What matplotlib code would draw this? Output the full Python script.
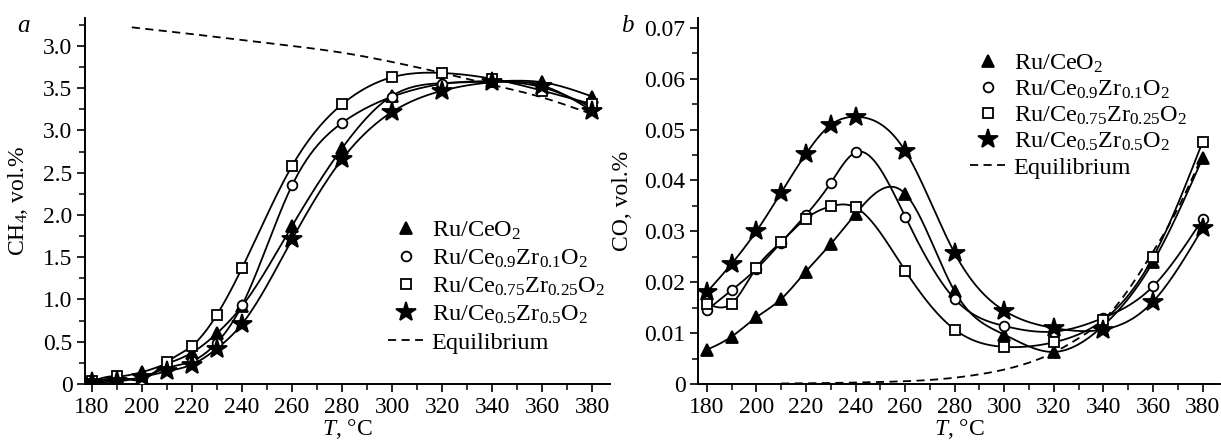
import numpy as np
import matplotlib
matplotlib.use('Agg')
import matplotlib.pyplot as plt
from matplotlib.ticker import MultipleLocator, FixedLocator, FixedFormatter

plt.rcParams['font.family'] = ['Liberation Serif', 'DejaVu Serif']
plt.rcParams['mathtext.fontset'] = 'custom'
plt.rcParams['mathtext.rm'] = 'Liberation Serif'
plt.rcParams['mathtext.it'] = 'Liberation Serif:italic'

# ---- data ----
T = [180, 190, 200, 210, 220, 230, 240, 260, 280, 300, 320, 340, 360, 380]

# panel a: CH4, vol.%
ch4_ce = [0.03, 0.08, 0.14, 0.24, 0.37, 0.60, 0.92, 1.87, 2.79, 3.41, 3.56, 3.58, 3.57, 3.40]
ch4_z10 = [0.02, 0.05, 0.08, 0.19, 0.27, 0.49, 0.93, 2.35, 3.09, 3.40, 3.55, 3.58, 3.51, 3.27]
ch4_z25 = [0.03, 0.09, 0.05, 0.26, 0.45, 0.82, 1.37, 2.58, 3.31, 3.63, 3.68, 3.61, 3.47, 3.31]
ch4_z50 = [0.02, 0.03, 0.08, 0.15, 0.23, 0.42, 0.71, 1.71, 2.66, 3.22, 3.47, 3.57, 3.53, 3.23]
T_eq_a = [196, 220, 240, 260, 280, 300, 320, 340, 360, 380]
ch4_eq = [4.22, 4.14, 4.07, 4.00, 3.92, 3.81, 3.68, 3.54, 3.39, 3.19]

# panel b: CO, vol.%
co_ce = [0.0067, 0.0093, 0.0131, 0.0167, 0.0221, 0.0275, 0.0334, 0.0374, 0.0182, 0.0097, 0.0063, 0.0115, 0.0240, 0.0444]
co_z10 = [0.0145, 0.0184, 0.0226, 0.0278, 0.0332, 0.0395, 0.0455, 0.0329, 0.0167, 0.0114, 0.0103, 0.0130, 0.0192, 0.0324]
co_z25 = [0.0158, 0.0158, 0.0228, 0.0279, 0.0325, 0.0349, 0.0347, 0.0223, 0.0107, 0.0073, 0.0082, 0.0126, 0.0249, 0.0476]
co_z50 = [0.0180, 0.0236, 0.0300, 0.0376, 0.0452, 0.0509, 0.0525, 0.0458, 0.0257, 0.0144, 0.0110, 0.0107, 0.0162, 0.0306]
T_eq_b = [210, 230, 250, 270, 290, 310, 320, 330, 340, 350, 360, 370, 380]
co_eq = [0.0001, 0.0002, 0.0004, 0.0008, 0.0019, 0.0042, 0.0062, 0.0090, 0.0126, 0.0185, 0.0260, 0.0345, 0.0450]

labels = [r'Ru/CeO$_2$', r'Ru/Ce$_{0.9}$Zr$_{0.1}$O$_2$',
          r'Ru/Ce$_{0.75}$Zr$_{0.25}$O$_2$', r'Ru/Ce$_{0.5}$Zr$_{0.5}$O$_2$']
a_ticklabels = ['0', '0.5', '1.0', '1.5', '2.0', '2.5', '3.0', '3.5', '3.0']
b_ticklabels = ['0', '0.01', '0.02', '0.03', '0.04', '0.05', '0.06', '0.07']


def natural_spline(x, y, num=400):
    x = np.asarray(x, float)
    y = np.asarray(y, float)
    n = len(x)
    h = np.diff(x)
    A = np.zeros((n, n))
    b = np.zeros(n)
    A[0, 0] = A[-1, -1] = 1
    for i in range(1, n - 1):
        A[i, i - 1] = h[i - 1]
        A[i, i] = 2 * (h[i - 1] + h[i])
        A[i, i + 1] = h[i]
        b[i] = 6 * ((y[i + 1] - y[i]) / h[i] - (y[i] - y[i - 1]) / h[i - 1])
    M = np.linalg.solve(A, b)
    xs = np.linspace(x[0], x[-1], num)
    k = np.clip(np.searchsorted(x, xs) - 1, 0, n - 2)
    hh = x[k + 1] - x[k]
    t0 = x[k + 1] - xs
    t1 = xs - x[k]
    ys = (M[k] * t0**3 + M[k + 1] * t1**3) / (6 * hh) \
        + (y[k] / hh - M[k] * hh / 6) * t0 + (y[k + 1] / hh - M[k + 1] * hh / 6) * t1
    return xs, ys


styles = [dict(marker='^', ms=8, mfc='black'),
          dict(marker='o', ms=7, mfc='white'),
          dict(marker='s', ms=7, mfc='white'),
          dict(marker='*', ms=15, mfc='black')]

fig = plt.figure(figsize=(12.21, 4.42), dpi=100)
axa = fig.add_axes([0.0696, 0.1312, 0.430, 0.828])
axb = fig.add_axes([0.5717, 0.1312, 0.4275, 0.828])

FS = 17


def draw(ax, series, Teq, yeq):
    handles = []
    for ys, st in zip(series, styles):
        xs, yy = natural_spline(T, ys)
        ax.plot(xs, yy, color='black', lw=1.3, zorder=2)
        h, = ax.plot(T, ys, ls='none', color='black', mec='black', mew=1.3,
                     zorder=3, **st)
        handles.append(h)
    xs, yy = natural_spline(Teq, yeq)
    h, = ax.plot(xs, yy, color='black', ls=(0, (4.5, 3)), lw=1.3, zorder=1)
    handles.append(h)
    for s in ['top', 'right']:
        ax.spines[s].set_visible(False)
    for s in ['left', 'bottom']:
        ax.spines[s].set_linewidth(1.4)
    ax.xaxis.set_major_locator(MultipleLocator(20))
    ax.xaxis.set_minor_locator(MultipleLocator(10))
    ax.tick_params(which='major', length=6, width=1.2, labelsize=FS, direction='out', pad=3)
    ax.tick_params(which='minor', length=4, width=1.1, direction='out')
    ax.set_xlabel(r'$T$, °C', fontsize=FS)
    return handles


ha = draw(axa, [ch4_ce, ch4_z10, ch4_z25, ch4_z50], T_eq_a, ch4_eq)
axa.set_xlim(177.3, 387)
axa.set_ylim(0, 4.33)
axa.yaxis.set_major_locator(FixedLocator(np.arange(0, 4.01, 0.5)))
axa.yaxis.set_major_formatter(FixedFormatter(a_ticklabels))
axa.yaxis.set_minor_locator(MultipleLocator(0.25))
axa.set_ylabel(r'CH$_4$, vol.%', fontsize=FS)
axa.yaxis.set_label_coords(-0.105, 0.5)
axa.xaxis.set_label_coords(0.5, -0.09)
axa.legend(ha, labels + ['Equilibrium'], loc='upper left', bbox_to_anchor=(0.577, 0.45),
           frameon=False, fontsize=17.5, handlelength=1.45, handletextpad=0.35,
           labelspacing=0.24, borderpad=0, borderaxespad=0, numpoints=1)

hb = draw(axb, [co_ce, co_z10, co_z25, co_z50], T_eq_b, co_eq)
axb.set_xlim(176.5, 387)
axb.set_ylim(0, 0.0719)
axb.yaxis.set_major_locator(FixedLocator(np.arange(0, 0.0701, 0.01)))
axb.yaxis.set_major_formatter(FixedFormatter(b_ticklabels))
axb.yaxis.set_minor_locator(MultipleLocator(0.005))
axb.set_ylabel('CO, vol.%', fontsize=FS)
axb.yaxis.set_label_coords(-0.124, 0.5)
axb.xaxis.set_label_coords(0.5, -0.09)
axb.legend(hb, labels + ['Equilibrium'], loc='upper left', bbox_to_anchor=(0.521, 0.905),
           frameon=False, fontsize=17.5, handlelength=1.45, handletextpad=0.35,
           labelspacing=0.15, borderpad=0, borderaxespad=0, numpoints=1)

fig.text(23 / 1221, 1 - 26 / 442, 'a', fontsize=18, style='italic', ha='center', va='center')
fig.text(627 / 1221, 1 - 26 / 442, 'b', fontsize=18, style='italic', ha='center', va='center')

fig.savefig('out.png', dpi=100)
